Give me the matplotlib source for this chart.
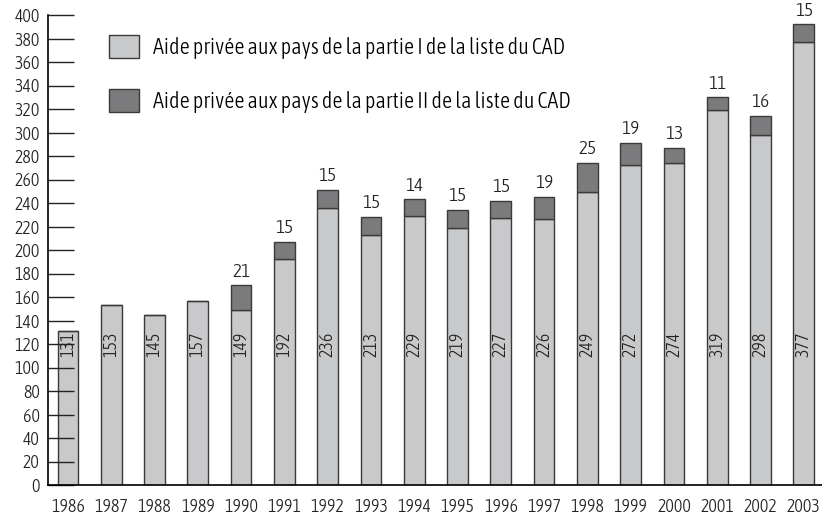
import matplotlib
matplotlib.use("Agg")
import matplotlib.pyplot as plt
from matplotlib import font_manager
from matplotlib.patches import Patch

# police condensée légère si elle existe
names = {f.name for f in font_manager.fontManager.ttflist}
for cand in ['Asap Condensed', 'Archivo Narrow', 'Liberation Sans Narrow']:
    if cand in names:
        FONT = cand
        break
else:
    FONT = 'Liberation Sans'
plt.rcParams['font.family'] = [FONT, 'DejaVu Sans']
plt.rcParams['font.weight'] = 300

years = ['1986', '1987', '1988', '1989', '1990', '1991', '1992', '1993', '1994',
         '1995', '1996', '1997', '1998', '1999', '2000', '2001', '2002', '2003']
part1 = [131, 153, 145, 157, 149, 192, 236, 213, 229, 219, 227, 226, 249, 272,
         274, 319, 298, 377]
part2 = [0, 0, 0, 0, 21, 15, 15, 15, 14, 15, 15, 19, 25, 19, 13, 11, 16, 15]

LIGHT = '#c8c9cb'
DARK = '#7b7b7d'
EDGE = '#3a3a3a'
TXT = '#222222'

fig = plt.figure(figsize=(8.22, 5.18), dpi=100)
ax = fig.add_axes([48 / 822, 33 / 518, 774 / 822, 470 / 518])

x = list(range(len(years)))
ax.bar(x, part1, width=0.48, color=LIGHT, edgecolor=EDGE, linewidth=1.0)
ax.bar(x, part2, width=0.48, bottom=part1, color=DARK, edgecolor=EDGE,
       linewidth=1.0)

for i in x:
    ax.text(i, 120, str(part1[i]), rotation=90, ha='center', va='center',
            fontsize=13, color=TXT)
    if part2[i] > 0:
        ax.text(i, part1[i] + part2[i] + 4, str(part2[i]), ha='center',
                va='bottom', fontsize=14, color=TXT)

ax.set_xlim(-0.46, 17.42)
ax.set_ylim(0, 400)
ax.set_yticks(range(0, 401, 20))
ax.set_xticks(x)
ax.set_xticklabels(years)
ax.tick_params(axis='y', direction='in', length=19, width=1.0, labelsize=13,
               pad=6, colors=TXT)
ax.tick_params(axis='x', length=0, labelsize=13, pad=9, colors=TXT)

for s in ['top', 'right']:
    ax.spines[s].set_visible(False)
ax.spines['left'].set_linewidth(1.2)
ax.spines['bottom'].set_linewidth(1.2)

handles = [Patch(facecolor=LIGHT, edgecolor=EDGE, linewidth=1.0),
           Patch(facecolor=DARK, edgecolor=EDGE, linewidth=1.0)]
labels = ['Aide privée aux pays de la partie I de la liste du CAD',
          'Aide privée aux pays de la partie II de la liste du CAD']
ax.legend(handles, labels, loc='upper left', bbox_to_anchor=(0.053, 1.0),
          frameon=False, fontsize=16, handlelength=1.35, handleheight=1.2,
          handletextpad=0.65, labelspacing=1.35, borderpad=0.4)

fig.savefig('out.png', dpi=100)
